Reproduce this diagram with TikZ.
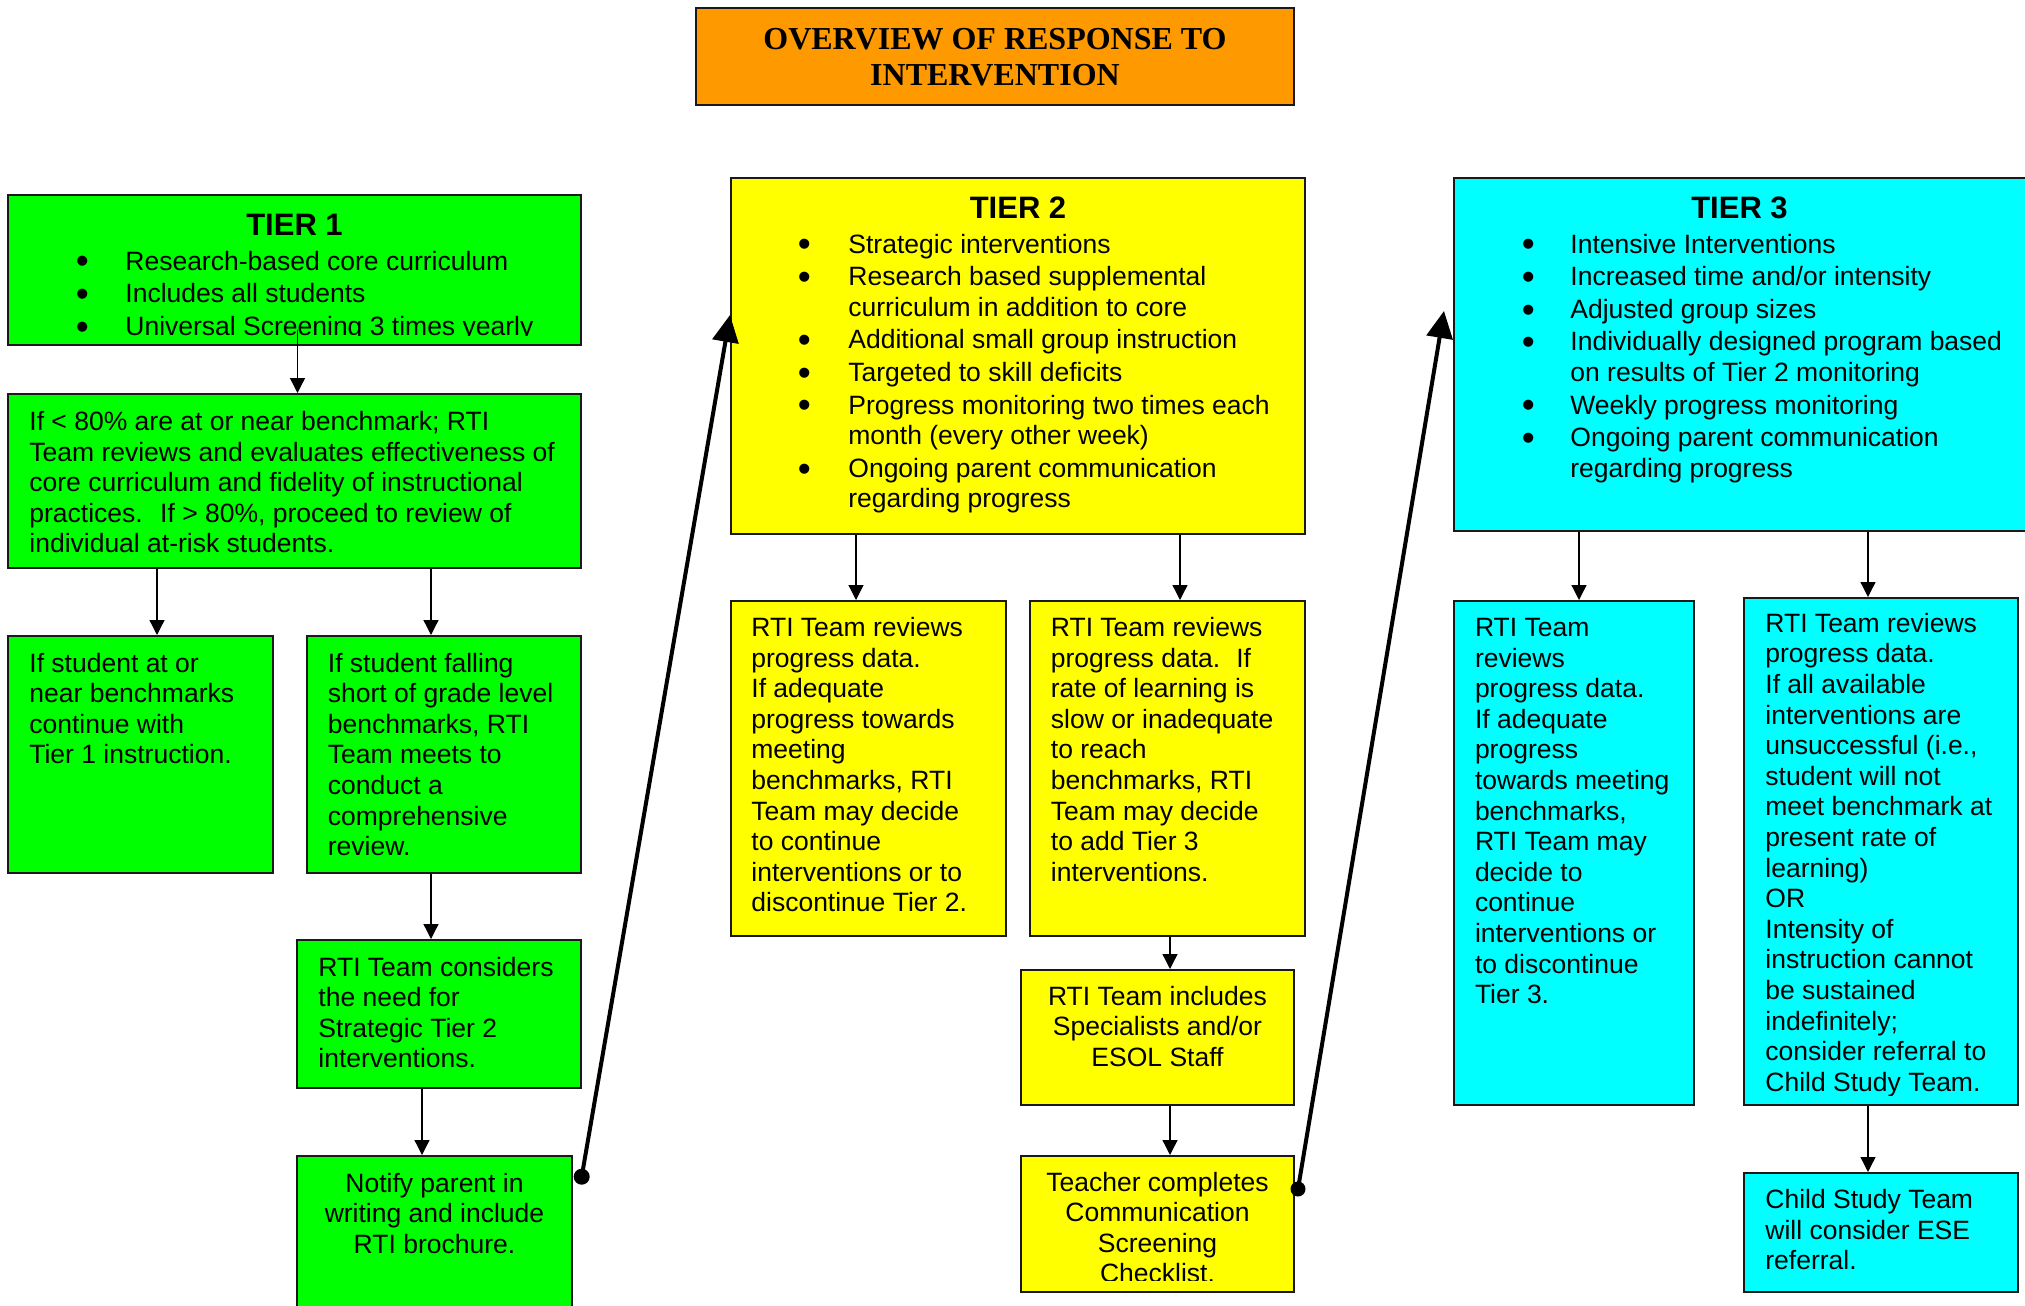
\documentclass[tikz,border=0pt]{standalone}
\usepackage{fontspec}
\setmainfont{Liberation Sans}
\newfontfamily\headserif{Liberation Serif}
\usetikzlibrary{arrows.meta,fit}

\definecolor{tgreen}{RGB}{0,255,0}
\definecolor{tyellow}{RGB}{255,255,0}
\definecolor{tcyan}{RGB}{0,255,255}
\definecolor{torange}{RGB}{255,153,0}

% lines of text stacked with the first baseline as reference point
\newcommand\lns[2]{\begin{tabular}[t]{@{}#1@{}}#2\end{tabular}}
% bullet hung to the left of an item
\newcommand\itm[1]{\llap{\makebox[0pt]{\smash{\raisebox{-1.9pt}{\scalebox{1.4}{\textbullet}}}}\hspace{#1}}}

\tikzset{
  box/.style={draw=black!90, line width=1pt, inner sep=0pt},
  txt/.style={inner sep=0pt, anchor=base west, font=\fontsize{13.25}{15.3}\selectfont},
  ctxt/.style={txt, anchor=base},
  tiertitle/.style={inner sep=0pt, anchor=base, font=\fontsize{15.5}{18}\selectfont\bfseries},
  arr/.style={line width=0.65pt, -{Triangle[length=7.5pt,width=7.5pt]}},
  bigarr/.style={line width=2pt, -{Triangle[length=13.5pt,width=13pt]}},
}

\begin{document}
\begin{tikzpicture}[x=0.5pt,y=-0.5pt]
\useasboundingbox (0,0) rectangle (2025,1306);

% ---------- heading ----------
\node[box, fill=torange, fit={(696,8) (1294,105)}] (head) {};
\node[inner sep=0pt, anchor=base, font=\headserif\bfseries\fontsize{16}{18}\selectfont] (headx) at (995,49)
  {\lns{c}{OVERVIEW OF RESPONSE TO\\INTERVENTION}};

% ---------- tier 1 column ----------
\node[box, fill=tgreen, fit={(8,195) (581,345)}] (t1) {};
\node[tiertitle] (t1h) at (294.5,235) {TIER 1};
\begin{scope}
  \clip (t1.north west) rectangle ([yshift=5.5pt]t1.south east);
  \node[txt] (t1x) at (125,270) {\lns{l}{%
    \itm{21.5pt}Research-based core curriculum\\[1pt]
    \itm{21.5pt}Includes all students\\[1pt]
    \itm{21.5pt}Universal Screening 3 times yearly}};
\end{scope}

\node[box, fill=tgreen, fit={(8,394) (581,568)}] (bench) {};
\node[txt] (benchx) at (29,430.5) {\lns{l}{%
  If < 80\% are at or near benchmark; RTI\\
  Team reviews and evaluates effectiveness of\\
  core curriculum and fidelity of instructional\\
  practices.\hspace{8.7pt}If > 80\%, proceed to review of\\
  individual at-risk students.}};

\node[box, fill=tgreen, fit={(8,636) (273,873)}] (near) {};
\node[txt] (nearx) at (29,672) {\lns{l}{%
  If student at or\\near benchmarks\\continue with\\Tier 1 instruction.}};

\node[box, fill=tgreen, fit={(307,636) (581,873)}] (short) {};
\node[txt] (shortx) at (327.5,672) {\lns{l}{%
  If student falling\\short of grade level\\benchmarks, RTI\\Team meets to\\
  conduct a\\comprehensive\\review.}};

\node[box, fill=tgreen, fit={(297,940) (581,1088)}] (cons) {};
\node[txt] (consx) at (318,976) {\lns{l}{%
  RTI Team considers\\the need for\\Strategic Tier 2\\interventions.}};

\node[box, fill=tgreen, fit={(297,1156) (572,1314)}] (notify) {};
\node[ctxt] (notifyx) at (434.5,1192) {\lns{c}{%
  Notify parent in\\writing and include\\RTI brochure.}};

% ---------- tier 2 column ----------
\node[box, fill=tyellow, fit={(731,178) (1305,534)}] (t2) {};
\node[tiertitle] (t2h) at (1018,218) {TIER 2};
\node[txt] (t2x) at (848,253) {\lns{l}{%
  \itm{22pt}Strategic interventions\\[1pt]
  \itm{22pt}Research based supplemental\\
  curriculum in addition to core\\[1pt]
  \itm{22pt}Additional small group instruction\\[1pt]
  \itm{22pt}Targeted to skill deficits\\[1pt]
  \itm{22pt}Progress monitoring two times each\\
  month (every other week)\\[1pt]
  \itm{22pt}Ongoing parent communication\\
  regarding progress}};

\node[box, fill=tyellow, fit={(731,601) (1006,936)}] (keep2) {};
\node[txt] (keep2x) at (751,636.5) {\lns{l}{%
  RTI Team reviews\\progress data.\\If adequate\\progress towards\\meeting\\
  benchmarks, RTI\\Team may decide\\to continue\\interventions or to\\
  discontinue Tier 2.}};

\node[box, fill=tyellow, fit={(1030,601) (1305,936)}] (slow) {};
\node[txt] (slowx) at (1050.5,636.5) {\lns{l}{%
  RTI Team reviews\\progress data.\hspace{8pt}If\\rate of learning is\\
  slow or inadequate\\to reach\\benchmarks, RTI\\Team may decide\\
  to add Tier 3\\interventions.}};

\node[box, fill=tyellow, fit={(1021,970) (1294,1105)}] (spec) {};
\node[ctxt] (specx) at (1157.5,1005) {\lns{c}{%
  RTI Team includes\\Specialists and/or\\ESOL Staff}};

\node[box, fill=tyellow, fit={(1021,1156) (1294,1292)}] (teach) {};
\begin{scope}
  \clip (teach.north west) rectangle ([yshift=6.5pt]teach.south east);
  \node[ctxt] (teachx) at (1157.5,1191) {\lns{c}{%
    Teacher completes\\Communication\\Screening\\Checklist.}};
\end{scope}

% ---------- tier 3 column ----------
\node[box, fill=tcyan, fit={(1454,178) (2028,531)}] (t3) {};
\node[tiertitle] (t3h) at (1739.5,218) {TIER 3};
\node[txt] (t3x) at (1570,253) {\lns{l}{%
  \itm{21pt}Intensive Interventions\\[1pt]
  \itm{21pt}Increased time and/or intensity\\[1pt]
  \itm{21pt}Adjusted group sizes\\[1pt]
  \itm{21pt}Individually designed program based\\
  on results of Tier 2 monitoring\\[1pt]
  \itm{21pt}Weekly progress monitoring\\[1pt]
  \itm{21pt}Ongoing parent communication\\
  regarding progress}};

\node[box, fill=tcyan, fit={(1454,601) (1694,1105)}] (keep3) {};
\node[txt] (keep3x) at (1474.6,636.5) {\lns{l}{%
  RTI Team\\reviews\\progress data.\\If adequate\\progress\\towards meeting\\
  benchmarks,\\RTI Team may\\decide to\\continue\\interventions or\\
  to discontinue\\Tier 3.}};

\node[box, fill=tcyan, fit={(1744,598) (2018,1105)}] (refer) {};
\begin{scope}
  \clip (refer.north west) rectangle ([yshift=5.5pt]refer.south east);
  \node[txt] (referx) at (1765,632.3) {\lns{l}{%
    RTI Team reviews\\progress data.\\If all available\\interventions are\\
    unsuccessful (i.e.,\\student will not\\meet benchmark at\\present rate of\\
    learning)\\OR\\Intensity of\\instruction cannot\\be sustained\\
    indefinitely;\\consider referral to\\Child Study Team.}};
\end{scope}

\node[box, fill=tcyan, fit={(1744,1173) (2018,1292)}] (cst) {};
\node[txt] (cstx) at (1765,1208.7) {\lns{l}{%
  Child Study Team\\will consider ESE\\referral.}};

% ---------- connectors ----------
\draw[arr] ([shift={(3,-16)}]t1.south) -- ([shift={(3,0)}]bench.north);
\draw[arr] (bench.south -| 157,0) -- (near.north -| 157,0);
\draw[arr] (bench.south -| 431,0) -- (short.north -| 431,0);
\draw[arr] (short.south -| 431,0) -- (cons.north -| 431,0);
\draw[arr] (cons.south -| 422,0) -- (notify.north -| 422,0);

\draw[arr] (t2.south -| 856,0) -- (keep2.north -| 856,0);
\draw[arr] (t2.south -| 1180,0) -- (slow.north -| 1180,0);
\draw[arr] (slow.south -| 1170,0) -- (spec.north -| 1170,0);
\draw[arr] (spec.south -| 1170,0) -- (teach.north -| 1170,0);

\draw[arr] (t3.south -| 1579,0) -- (keep3.north -| 1579,0);
\draw[arr] (t3.south -| 1868,0) -- (refer.north -| 1868,0);
\draw[arr] (refer.south -| 1868,0) -- (cst.north -| 1868,0);

% links from the last step of one tier up to the next tier
\coordinate (dot1) at (581.7,1176.7);
\coordinate (into2) at (t2.west |- 0,315);
\coordinate (dot2) at (1298,1189);
\coordinate (into3) at (1444,311);
\fill (dot1) circle (8);
\fill (dot2) circle (7.5);
\draw[bigarr] (dot1) -- (into2);
\draw[bigarr] (dot2) -- (into3);
\end{tikzpicture}
\end{document}
